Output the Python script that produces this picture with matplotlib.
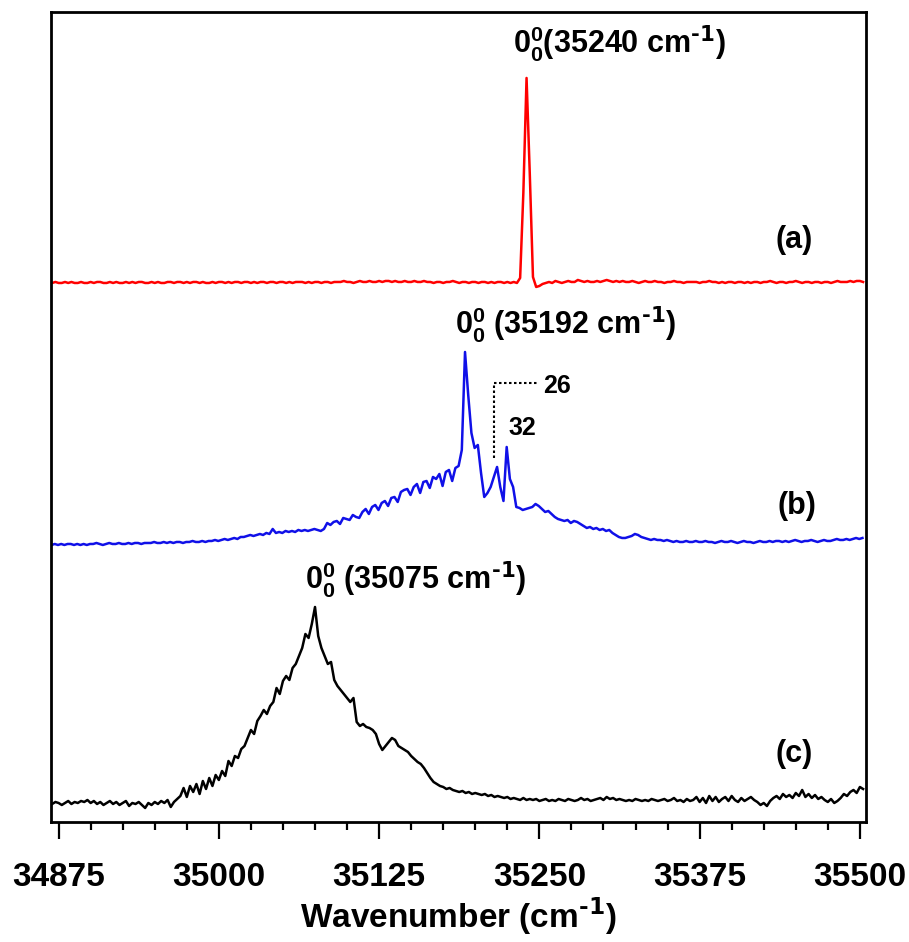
import numpy as np
import matplotlib
matplotlib.use('Agg')
import matplotlib.pyplot as plt
from matplotlib.ticker import MultipleLocator

plt.rcParams['font.family'] = ['Liberation Sans', 'DejaVu Sans']
plt.rcParams['font.weight'] = 'bold'
plt.rcParams['mathtext.default'] = 'regular'

# wavenumber grids (cm-1), 2.5 cm-1 steps
wn_a = np.arange(34870.0, 35503.0, 2.5)
wn_b = np.arange(34869.5, 35503.0, 2.5)
wn_c = np.arange(34870.0, 35503.0, 2.5)

# (a) signal above its own baseline, arb. units
sig_a = [
    0, 1, 0, 0, 1, 0, 1, 0, 0, 1,
    0, 0, 1, 0, 1, 1, 0, 0, 1, 0,
    1, 0, 0, 1, 0, 1, 0, 1, 1, 0,
    0, 1, 0, 1, 0, 0, 1, 1, 0, 1,
    1, 0, 1, 0, 1, 1, 0, 1, 0, 0,
    1, 0, 1, 1, 0, 1, 0, 1, 1, 0,
    1, 1, 0, 1, 0, 1, 1, 0, 1, 1,
    0, 1, 1, 0, 1, 0, 1, 1, 1, 0,
    1, 0, 1, 1, 0, 1, 1, 0, 1, 1,
    1, 2, 1, 1, 0, 1, 2, 1, 1, 2,
    1, 1, 2, 1, 2, 2, 1, 2, 1, 1,
    2, 1, 1, 2, 1, 1, 2, 1, 1, 0,
    1, 1, 0, 1, 1, 2, 1, 0, 1, 1,
    0, 1, 1, 0, 1, 1, 0, 1, 0, 1,
    1, 0, 1, 0, 1, 0, 5, 90, 205, 110,
    6, -4, -3, -1, 0, 1, 0, 2, 1, 0,
    1, 2, 1, 1, 3, 2, 1, 2, 1, 1,
    2, 1, 2, 3, 2, 1, 2, 1, 2, 1,
    1, 2, 1, 0, 1, 2, 1, 1, 2, 1,
    1, 0, 1, 1, 2, 1, 1, 0, 1, 1,
    1, 1, 0, 1, 1, 2, 1, 1, 0, 1,
    0, 1, 1, 0, 1, 1, 0, 1, 0, 1,
    1, 0, 1, 1, 2, 1, 0, 1, 1, 0,
    1, 1, 2, 1, 0, 1, 1, 0, 1, 1,
    0, 1, 1, 0, 1, 2, 1, 1, 1, 2,
    1, 2, 2, 1,
]

# (b)
sig_b = [
    0, 1, 0, 1, 0, 1, 1, 0, 1, 0,
    1, 0, 1, 1, 2, 1, 0, 1, 2, 1,
    1, 2, 1, 1, 2, 1, 2, 2, 1, 2,
    2, 2, 3, 2, 2, 3, 2, 3, 2, 3,
    3, 2, 3, 3, 4, 3, 3, 4, 3, 4,
    4, 5, 4, 5, 6, 5, 6, 7, 6, 8,
    8, 9, 10, 9, 10, 11, 10, 12, 11, 16,
    12, 13, 12, 14, 13, 14, 13, 15, 14, 15,
    14, 15, 16, 15, 14, 16, 22, 20, 23, 24,
    21, 27, 26, 25, 30, 28, 27, 33, 36, 31,
    38, 40, 35, 42, 44, 39, 47, 48, 43, 53,
    55, 56, 50, 58, 61, 52, 63, 64, 57, 68,
    66, 71, 59, 73, 75, 64, 77, 79, 95, 193,
    150, 112, 97, 100, 72, 48, 52, 58, 68, 78,
    58, 44, 98, 66, 58, 38, 37, 35, 36, 37,
    38, 41, 39, 36, 33, 34, 31, 28, 26, 25,
    24, 25, 22, 24, 23, 21, 19, 17, 18, 16,
    17, 15, 16, 14, 15, 12, 10, 8, 7, 7,
    8, 9, 11, 10, 8, 7, 6, 5, 6, 5,
    5, 4, 5, 4, 3, 4, 3, 3, 4, 3,
    3, 4, 3, 3, 4, 3, 3, 2, 3, 4,
    3, 3, 4, 3, 2, 3, 4, 3, 3, 2,
    3, 4, 3, 3, 4, 3, 4, 4, 3, 4,
    3, 4, 5, 4, 3, 4, 4, 5, 4, 3,
    4, 5, 4, 4, 5, 6, 5, 5, 6, 5,
    6, 7, 6, 7,
]

# (c)
sig_c = [
    2, 4, 3, 1, 3, 5, 2, 4, 3, 5,
    4, 6, 3, 5, 2, 4, 1, 3, 5, 2,
    4, 1, 3, 5, 0, 3, 2, 4, 1, -2,
    3, 1, 4, 2, 5, 3, 6, -1, 4, 7,
    10, 18, 9, 20, 14, 22, 12, 25, 17, 28,
    20, 31, 26, 35, 30, 45, 40, 50, 48, 57,
    60, 68, 76, 72, 85, 90, 96, 92, 100, 104,
    118, 112, 125, 130, 126, 138, 142, 150, 158, 172,
    168, 182, 199, 170, 158, 150, 142, 144, 126, 120,
    116, 112, 108, 104, 108, 84, 80, 82, 79, 78,
    76, 72, 62, 56, 60, 64, 68, 66, 60, 58,
    56, 54, 50, 47, 44, 42, 38, 33, 28, 24,
    22, 20, 19, 17, 18, 16, 15, 14, 15, 13,
    14, 12, 13, 12, 11, 12, 10, 11, 9, 10,
    9, 8, 9, 7, 8, 7, 6, 8, 6, 7,
    6, 7, 5, 6, 7, 5, 6, 5, 7, 6,
    5, 7, 6, 5, 6, 8, 6, 7, 5, 6,
    7, 8, 6, 9, 7, 8, 6, 7, 6, 5,
    6, 5, 7, 6, 5, 6, 5, 7, 6, 5,
    6, 7, 5, 6, 8, 5, 6, 4, 7, 5,
    6, 9, 4, 8, 3, 10, 5, 9, 4, 7,
    9, 5, 10, 6, 4, 8, 5, 7, 9, 6,
    4, 1, 3, 0, 5, 8, 10, 7, 12, 9,
    11, 8, 13, 10, 16, 9, 12, 8, 11, 7,
    9, 6, 4, 7, 3, 5, 8, 12, 10, 14,
    16, 13, 19, 17,
]

# vertical stacking offsets
off_a, off_b, off_c = 539, 277, 16

fig = plt.figure(figsize=(9.09, 9.42), dpi=100)
ax = fig.add_axes([0.056, 0.1274, 0.8966, 0.8599])

ax.plot(wn_a, np.array(sig_a) + off_a, color='#ff0000', lw=1.8)
ax.plot(wn_b, np.array(sig_b) + off_b, color='#1010e8', lw=1.8)
ax.plot(wn_c, np.array(sig_c) + off_c, color='black', lw=1.8)

ax.set_xlim(34869, 35504.7)
ax.set_ylim(0, 810)

sup = r'$^{\text{-1}}$'
lbl = dict(fontsize=22, fontweight='bold')
ax.text(35229.5, 769, r'$0_0^0$(35240 cm' + sup + ')', ha='left', va='baseline', **lbl)
ax.text(35184.5, 488, r'$0_0^0$ (35192 cm' + sup + ')', ha='left', va='baseline', **lbl)
ax.text(35067.5, 233, r'$0_0^0$ (35075 cm' + sup + ')', ha='left', va='baseline', **lbl)
ax.text(35449, 582, '(a)', ha='center', va='center', **lbl)
ax.text(35451, 316, '(b)', ha='center', va='center', **lbl)
ax.text(35449, 68, '(c)', ha='center', va='center', **lbl)

# bracket marking the 26 cm-1 band
ax.plot([35215, 35215, 35248.5], [364, 439, 439], color='black', lw=1.5, ls=(0, (1.2, 1.2)))
ax.text(35253, 436, '26', ha='left', va='center', fontsize=18, fontweight='bold')
ax.text(35225.7, 394, '32', ha='left', va='center', fontsize=18, fontweight='bold')

ax.xaxis.set_major_locator(MultipleLocator(125))
ax.xaxis.set_minor_locator(MultipleLocator(25))
ax.tick_params(axis='x', which='major', direction='out', length=12, width=1.6,
               labelsize=24, pad=17)
ax.tick_params(axis='x', which='minor', direction='out', length=6, width=1.6)
ax.tick_params(axis='y', left=False, labelleft=False)
for lab in ax.get_xticklabels():
    lab.set_fontweight('bold')
for sp in ax.spines.values():
    sp.set_linewidth(2.0)

ax.set_xlabel('Wavenumber (cm' + sup + ')', fontsize=24, fontweight='bold', labelpad=2)

fig.savefig('out.png', dpi=100)
